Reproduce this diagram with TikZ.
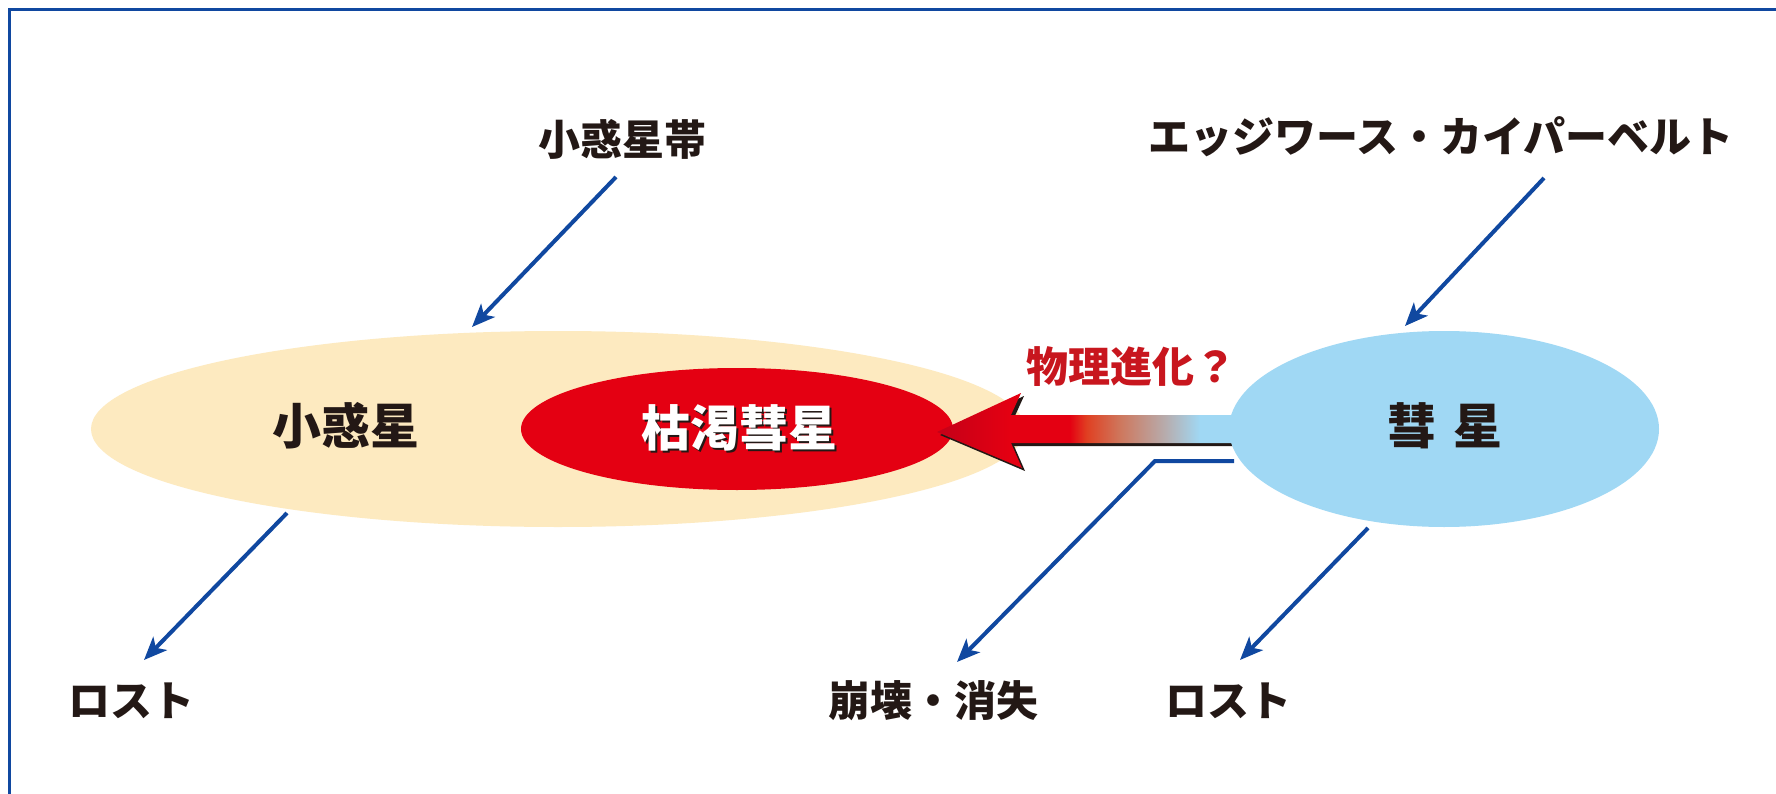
\documentclass[tikz,border=0pt]{standalone}
\usepackage{fontspec}
\newfontfamily\jp{Noto Sans CJK JP}
\usetikzlibrary{arrows.meta,shapes.geometric}
\definecolor{lineblue}{RGB}{16,72,160}
\definecolor{beige}{RGB}{253,234,192}
\definecolor{skyb}{RGB}{160,216,244}
\definecolor{cred}{RGB}{228,0,18}
\definecolor{dred}{RGB}{196,0,24}
\definecolor{tred}{RGB}{200,22,30}
\definecolor{ink}{RGB}{35,24,21}
\definecolor{orng}{RGB}{224,64,34}
\definecolor{salm}{RGB}{206,120,94}
\definecolor{grayb}{RGB}{182,174,176}
\pgfdeclarehorizontalshading{evo}{100bp}{color(0bp)=(dred); color(25bp)=(dred); color(37bp)=(cred); color(46.9bp)=(cred); color(49.7bp)=(orng); color(55.3bp)=(salm); color(62.9bp)=(grayb); color(68.4bp)=(skyb); color(100bp)=(skyb)}
\begin{document}
\begin{tikzpicture}[x=1pt,y=-1pt,
  lbl/.style={font=\jp\bfseries\fontsize{42}{48}\selectfont, text=ink, inner sep=0pt},
  biglbl/.style={font=\jp\bfseries\fontsize{49}{56}\selectfont, inner sep=0pt},
  conn/.style={draw=lineblue, line width=4pt, -{Stealth[length=23pt,width=19pt,inset=6pt]}},
  oval/.style={ellipse, inner sep=0pt, draw=none}
  ]
\useasboundingbox (0,0) rectangle (1776,794);
\fill[white] (0,0) rectangle (1776,794);
\draw[lineblue, line width=3pt] (9,794) -- (9,9.5) -- (1776,9.5);

% ellipses
\node[oval, fill=beige, minimum width=934pt, minimum height=196pt] (asteroid) at (558,429) {};
\node[oval, fill=cred, minimum width=432pt, minimum height=122pt] (extinct) at (737,429) {};

% big evolution arrow (shadow + body)
\fill[ink] (940,435) -- (1024,396) -- (1014,418) -- (1243,418) -- (1243,446) -- (1014,446) -- (1025,471) -- cycle;
\path[shading=evo] (937,432) -- (1021,393) -- (1011,415) -- (1240,415) -- (1240,443) -- (1011,443) -- (1022,468) -- cycle;

\node[oval, fill=skyb, minimum width=430pt, minimum height=196pt] (comet) at (1444,429) {};

% texts in ellipses
\node[biglbl, text=ink] (asteroidlbl) at (346,426) {小惑星};
\node[biglbl, text=ink] (extinctsh) at (741,430) {枯渇彗星};
\node[biglbl, text=white] (extinctlbl) at (739,428) {枯渇彗星};
\node[biglbl, text=ink] (cometlbl) at (1445,426) {彗\hspace{17pt}星};

% labels
\node[lbl] (belt) at (622,139) {小惑星帯};
\node[lbl] (kuiper) at (1441,137) {エッジワース・カイパーベルト};
\node[lbl] (lostA) at (131,701) {ロスト};
\node[lbl] (breakup) at (933,701) {崩壊・消失};
\node[lbl] (lostC) at (1228,701) {ロスト};
\node[lbl, text=tred] (evolbl) at (1131,367) {物理進化？};

% connectors
\coordinate (beltS) at (616,177);
\coordinate (beltE) at (472,327);
\coordinate (kuiperS) at (1544,178);
\coordinate (kuiperE) at (1405,326);
\coordinate (astS) at (287,513);
\coordinate (astE) at (144,660);
\coordinate (cometS) at (1368,528);
\coordinate (cometE) at (1240,660);
\coordinate (brkS) at (1234,461);
\coordinate (brkM) at (1155,461);
\coordinate (brkE) at (957,662);

\draw[conn] (beltS) -- (beltE);
\draw[conn] (kuiperS) -- (kuiperE);
\draw[conn] (astS) -- (astE);
\draw[conn] (cometS) -- (cometE);
\draw[conn] (brkS) -- (brkM) -- (brkE);
\end{tikzpicture}
\end{document}
